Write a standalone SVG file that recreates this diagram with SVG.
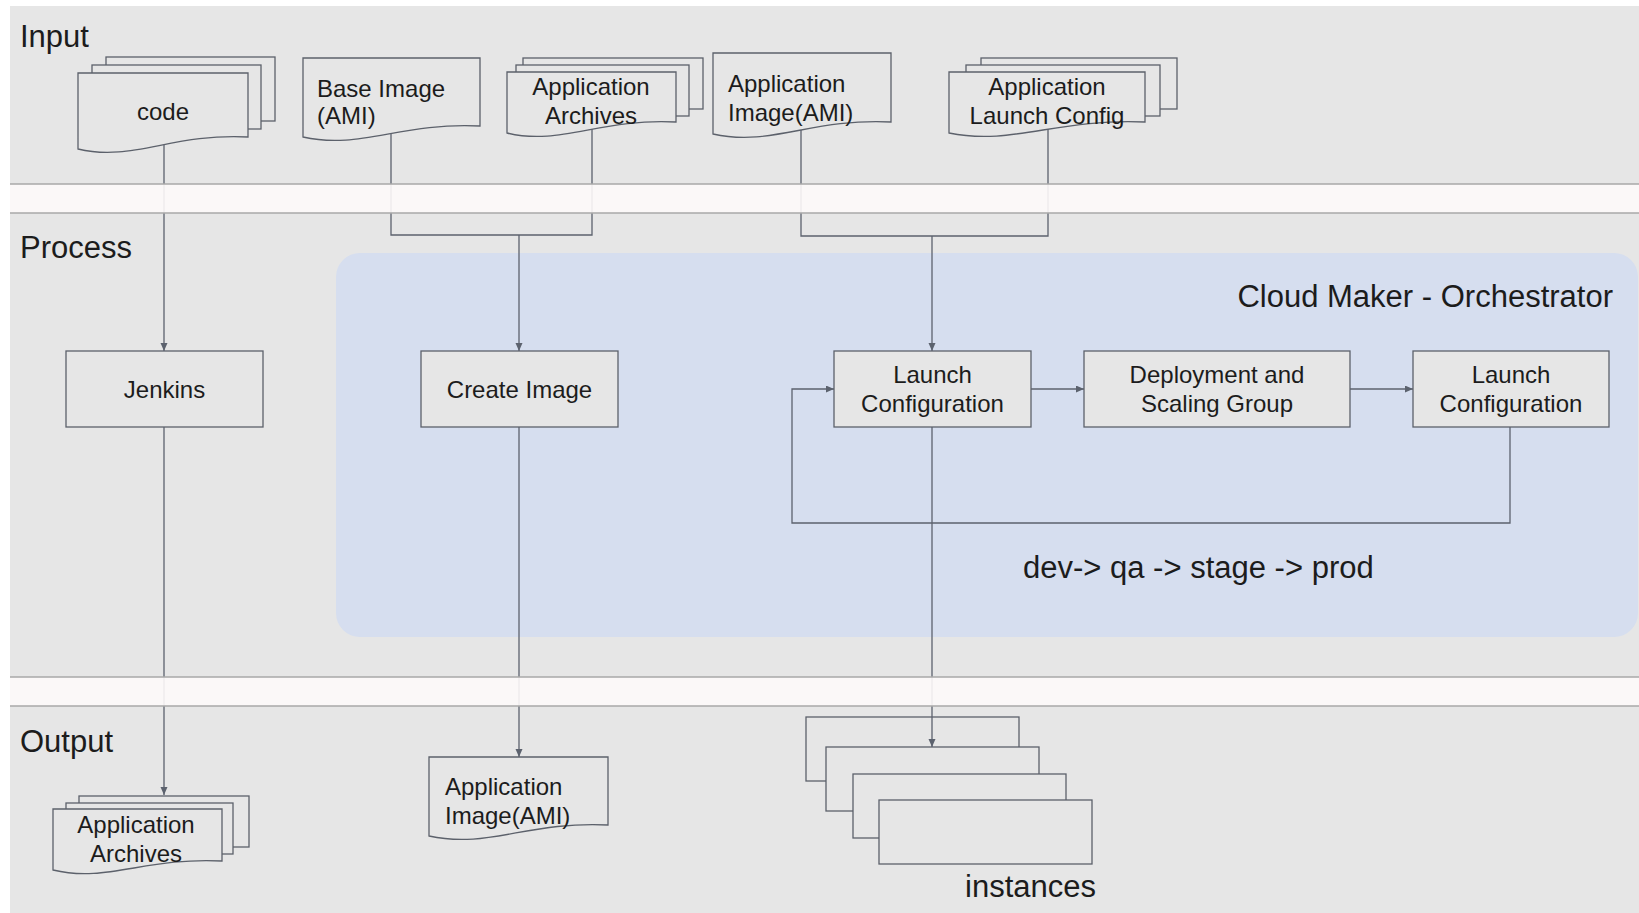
<svg xmlns="http://www.w3.org/2000/svg" width="1639" height="913" viewBox="0 0 1639 913">
<style>
text{font-family:"Liberation Sans",Arial,sans-serif;fill:#1c1c1c}
.lbl{font-size:31px}
.t{font-size:24px}
.c{text-anchor:middle}
.shape{fill:#e6e6e6;stroke:#5c616b;stroke-width:1.3}
.conn{fill:none;stroke:#5c626e;stroke-width:1.3}
.bandline{stroke:#a8a8a8;stroke-width:1.3}
</style>
<defs>
<marker id="ah" markerUnits="userSpaceOnUse" markerWidth="9" markerHeight="8" refX="8" refY="3.5" orient="auto">
<path d="M0,0 L8,3.5 L0,7 z" fill="#5c626e"/>
</marker>
</defs>
<rect x="10" y="6" width="1629" height="907" fill="#e6e6e6"/>
<rect id="orchestrator" x="336" y="253" width="1302" height="384" rx="24" fill="#d6deef"/>
<g id="labels">
<text class="lbl" x="20" y="47">Input</text>
<text class="lbl" x="20" y="258">Process</text>
<text class="lbl" x="20" y="752">Output</text>
<text class="lbl" x="1613" y="307" text-anchor="end">Cloud Maker - Orchestrator</text>
<text class="lbl" x="1023" y="578">dev-&gt; qa -&gt; stage -&gt; prod</text>
</g>
<g id="code">
<rect class="shape" x="106" y="57" width="169" height="64"/>
<rect class="shape" x="92" y="65" width="169" height="64"/>
<path class="shape" d="M78,73 H248 V137 C172,133 132,162 78,149 Z"/>
<text class="t c" x="163" y="120">code</text>
</g>
<g id="base-image">
<path class="shape" d="M303,58 H480 V126 C400,122 360,150 303,137 Z"/>
<text class="t" x="317" y="97">Base Image</text>
<text class="t" x="317" y="124">(AMI)</text>
</g>
<g id="app-archives-in">
<rect class="shape" x="523" y="58" width="180" height="51"/>
<rect class="shape" x="516" y="65" width="173" height="51"/>
<path class="shape" d="M507,72 H676 V122 C600,118 560,146 507,133 Z"/>
<text class="t c" x="591" y="95">Application</text>
<text class="t c" x="591" y="124">Archives</text>
</g>
<g id="app-image-in">
<path class="shape" d="M713,53 H891 V122 C811,118 771,147 713,134 Z"/>
<text class="t" x="728" y="92">Application</text>
<text class="t" x="728" y="121">Image(AMI)</text>
</g>
<g id="app-launch-config">
<rect class="shape" x="981" y="58" width="196" height="51"/>
<rect class="shape" x="966" y="65" width="194" height="51"/>
<path class="shape" d="M949,72 H1145 V122 C1057,118 1012,146 949,133 Z"/>
<text class="t c" x="1047" y="95">Application</text>
<text class="t c" x="1047" y="124">Launch Config</text>
</g>
<g id="jenkins">
<rect class="shape" x="66" y="351" width="197" height="76"/>
<text class="t c" x="164.5" y="398">Jenkins</text>
</g>
<g id="create-image">
<rect class="shape" x="421" y="351" width="197" height="76"/>
<text class="t c" x="519.5" y="398">Create Image</text>
</g>
<g id="launch-config-1">
<rect class="shape" x="834" y="351" width="197" height="76"/>
<text class="t c" x="932.5" y="383">Launch</text>
<text class="t c" x="932.5" y="412">Configuration</text>
</g>
<g id="deployment-scaling-group">
<rect class="shape" x="1084" y="351" width="266" height="76"/>
<text class="t c" x="1217" y="383">Deployment and</text>
<text class="t c" x="1217" y="412">Scaling Group</text>
</g>
<g id="launch-config-2">
<rect class="shape" x="1413" y="351" width="196" height="76"/>
<text class="t c" x="1511" y="383">Launch</text>
<text class="t c" x="1511" y="412">Configuration</text>
</g>
<g id="app-archives-out">
<rect class="shape" x="79" y="796" width="170" height="51"/>
<rect class="shape" x="66" y="803" width="167" height="51"/>
<path class="shape" d="M53,809 H222 V861 C146,857 106,883 53,870 Z"/>
<text class="t c" x="136" y="833">Application</text>
<text class="t c" x="136" y="862">Archives</text>
</g>
<g id="app-image-out">
<path class="shape" d="M429,757 H608 V825 C528,821 488,849 429,836 Z"/>
<text class="t" x="445" y="795">Application</text>
<text class="t" x="445" y="824">Image(AMI)</text>
</g>
<g id="instances">
<rect class="shape" x="806" y="717" width="213" height="64"/>
<rect class="shape" x="826" y="747" width="213" height="64"/>
<rect class="shape" x="853" y="774" width="213" height="64"/>
<rect class="shape" x="879" y="800" width="213" height="64"/>
<text class="lbl" x="965" y="897">instances</text>
</g>
<g id="connectors">
<path class="conn" d="M164,145 V351" marker-end="url(#ah)"/>
<path class="conn" d="M164,427 V795" marker-end="url(#ah)"/>
<path class="conn" d="M391,133 V235 H592 V129"/>
<path class="conn" d="M519,235 V351" marker-end="url(#ah)"/>
<path class="conn" d="M519,427 V757" marker-end="url(#ah)"/>
<path class="conn" d="M801,130 V236 H1048 V129"/>
<path class="conn" d="M932,236 V351" marker-end="url(#ah)"/>
<path class="conn" d="M1031,389 H1084" marker-end="url(#ah)"/>
<path class="conn" d="M1350,389 H1413" marker-end="url(#ah)"/>
<path class="conn" d="M1510,427 V523 H792 V389 H834" marker-end="url(#ah)"/>
<path class="conn" d="M932,427 V747" marker-end="url(#ah)"/>
</g>
<g id="bands">
<rect x="10" y="184" width="1629" height="29" fill="#fdfafa" opacity="0.9"/>
<line class="bandline" x1="10" y1="184" x2="1639" y2="184"/>
<line class="bandline" x1="10" y1="213" x2="1639" y2="213"/>
<rect x="10" y="677" width="1629" height="29" fill="#fdfafa" opacity="0.9"/>
<line class="bandline" x1="10" y1="677" x2="1639" y2="677"/>
<line class="bandline" x1="10" y1="706" x2="1639" y2="706"/>
</g>
</svg>
